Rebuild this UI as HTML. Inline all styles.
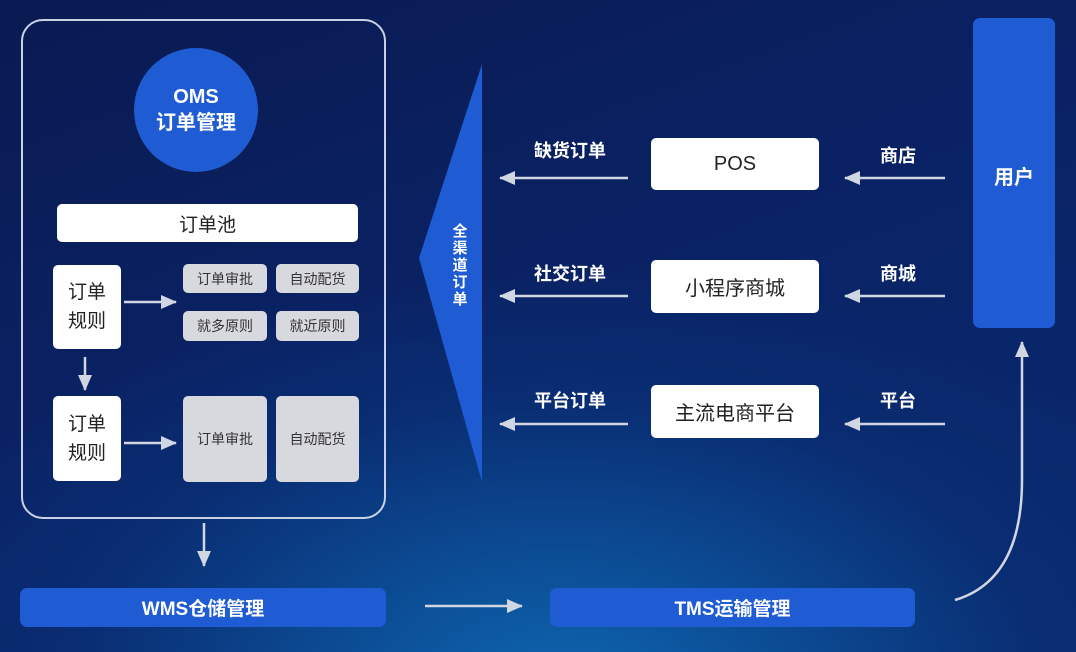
<!DOCTYPE html>
<html><head><meta charset="utf-8"><style>
html,body{margin:0;padding:0}
body{width:1076px;height:652px;position:relative;overflow:hidden;font-family:"Liberation Sans","Noto Sans CJK SC",sans-serif;
background:radial-gradient(ellipse 700px 420px at 560px 690px,#0d66b0 0%,#0b4a92 35%,#0a2c72 70%,rgba(10,30,90,0) 100%),linear-gradient(160deg,#0a1a52 0%,#0a2366 50%,#0a2a70 100%);}
.a{position:absolute;box-sizing:border-box;display:flex;align-items:center;justify-content:center;text-align:center}
.w{background:#fff;color:#222;border-radius:5px}
.g{background:#d8d9de;color:#333;border-radius:5px;font-size:14px}
.b{background:#1f5bd2;color:#fff;font-weight:bold;border-radius:7px;font-size:19px}
.l{color:#fff;font-weight:bold;font-size:18px}
</style></head><body>
<div class="a" style="left:21px;top:19px;width:365px;height:500px;border:2px solid #c9d2e4;border-radius:22px"></div>
<div class="a" style="left:134px;top:48px;width:124px;height:124px;border-radius:50%;background:#1f5bd2;color:#fff;font-weight:bold;font-size:20px;line-height:26px;flex-direction:column">OMS<br>订单管理</div>
<div class="a w" style="left:57px;top:204px;width:301px;height:38px;font-size:19px">订单池</div>
<div class="a w" style="left:53px;top:265px;width:68px;height:84px;font-size:19px;line-height:29px">订单<br>规则</div>
<div class="a w" style="left:53px;top:396px;width:68px;height:85px;font-size:19px;line-height:29px">订单<br>规则</div>
<div class="a g" style="left:183px;top:264px;width:84px;height:29px">订单审批</div>
<div class="a g" style="left:276px;top:264px;width:83px;height:29px">自动配货</div>
<div class="a g" style="left:183px;top:311px;width:84px;height:30px">就多原则</div>
<div class="a g" style="left:276px;top:311px;width:83px;height:30px">就近原则</div>
<div class="a g" style="left:183px;top:396px;width:84px;height:86px">订单审批</div>
<div class="a g" style="left:276px;top:396px;width:83px;height:86px">自动配货</div>
<div class="a b" style="left:20px;top:588px;width:366px;height:39px">WMS仓储管理</div>
<div class="a b" style="left:550px;top:588px;width:365px;height:39px">TMS运输管理</div>
<div class="a b" style="left:973px;top:18px;width:82px;height:310px;font-size:20px;padding-bottom:0;align-items:flex-start;padding-top:143px">用户</div>
<svg style="position:absolute;left:0;top:0" width="1076" height="652">
<polygon points="482,64 482,482 419,258" fill="#1f5bd2"/>
<defs><marker id="m" markerWidth="10" markerHeight="10" refX="8" refY="5" orient="auto" markerUnits="userSpaceOnUse"><path d="M0,0 L10,5 L0,10 Z" fill="#d0d6e2"/></marker>
<marker id="n" markerWidth="16" markerHeight="14" refX="15" refY="7" orient="auto" markerUnits="userSpaceOnUse"><path d="M0,0 L16,7 L0,14 Z" fill="#d0d6e2"/></marker></defs>
<g stroke="#d0d6e2" stroke-width="2.5" fill="none">
<line x1="124" y1="302" x2="176" y2="302" marker-end="url(#n)"/>
<line x1="124" y1="443" x2="176" y2="443" marker-end="url(#n)"/>
<line x1="85" y1="357" x2="85" y2="390" marker-end="url(#n)"/>
<line x1="204" y1="523" x2="204" y2="566" marker-end="url(#n)"/>
<line x1="425" y1="606" x2="522" y2="606" marker-end="url(#n)"/>
<line x1="628" y1="178" x2="500" y2="178" marker-end="url(#n)"/>
<line x1="628" y1="296" x2="500" y2="296" marker-end="url(#n)"/>
<line x1="628" y1="424" x2="500" y2="424" marker-end="url(#n)"/>
<line x1="945" y1="178" x2="845" y2="178" marker-end="url(#n)"/>
<line x1="945" y1="296" x2="845" y2="296" marker-end="url(#n)"/>
<line x1="945" y1="424" x2="845" y2="424" marker-end="url(#n)"/>
<path d="M955,600 Q1022,580 1022,480 L1022,342" marker-end="url(#n)"/>
</g></svg>
<div class="a" style="left:448px;top:218px;width:24px;height:95px;color:#fff;font-weight:bold;font-size:15px;line-height:17px;flex-direction:column">全<br>渠<br>道<br>订<br>单</div>
<div class="a w" style="left:651px;top:138px;width:168px;height:52px;font-size:20px">POS</div>
<div class="a w" style="left:651px;top:260px;width:168px;height:53px;font-size:20px">小程序商城</div>
<div class="a w" style="left:651px;top:385px;width:168px;height:53px;font-size:20px">主流电商平台</div>
<div class="a l" style="left:520px;top:137px;width:100px;height:26px">缺货订单</div>
<div class="a l" style="left:520px;top:260px;width:100px;height:26px">社交订单</div>
<div class="a l" style="left:520px;top:387px;width:100px;height:26px">平台订单</div>
<div class="a l" style="left:868px;top:142px;width:60px;height:26px">商店</div>
<div class="a l" style="left:868px;top:260px;width:60px;height:26px">商城</div>
<div class="a l" style="left:868px;top:387px;width:60px;height:26px">平台</div>
</body></html>
